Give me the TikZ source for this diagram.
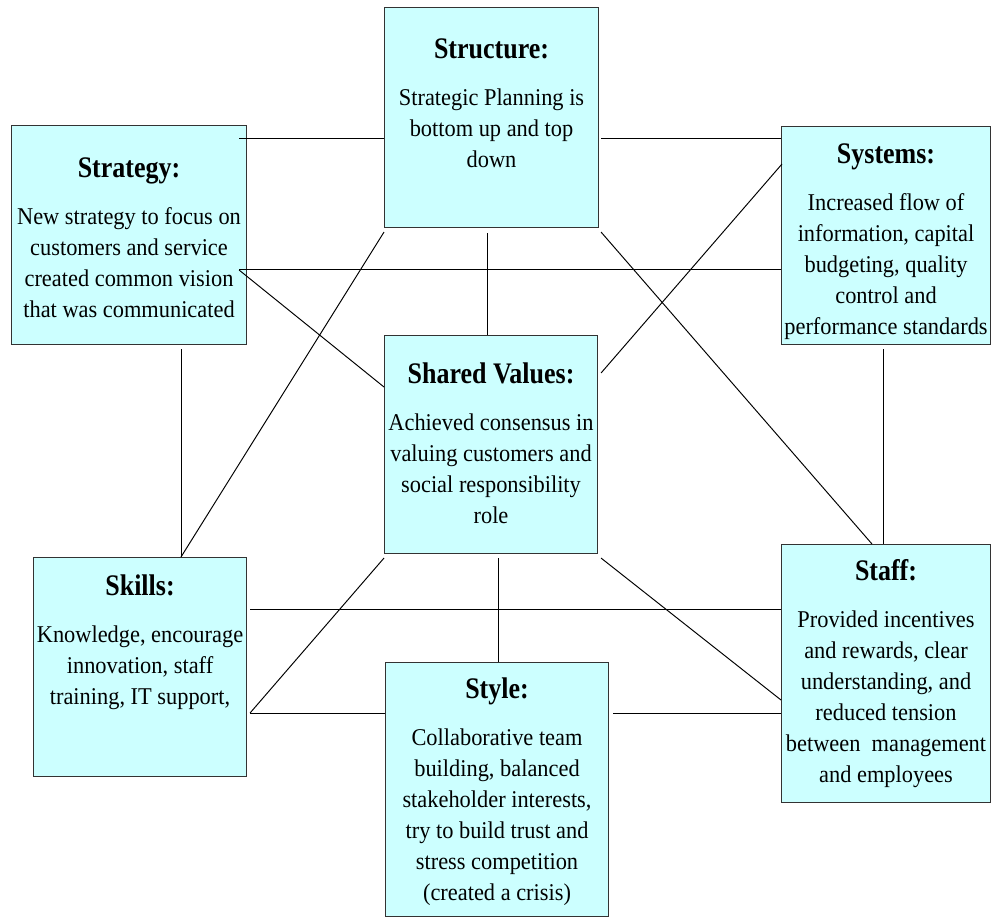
\documentclass[tikz,border=0pt]{standalone}
\usepackage{fontspec}
\setmainfont{Liberation Serif}[FakeStretch=0.93]
\newfontfamily\titlefont{Liberation Serif}[FakeStretch=0.87]
\usepackage{tikz}
\usetikzlibrary{calc}

\newlength{\pxu}
\setlength{\pxu}{0.02cm}
% #1 width, #2 height, #3 title baseline, #4 title, #5 text
\newcommand{\panel}[5]{%
  \parbox[t][#2\pxu][t]{#1\pxu}{\centering
    \fontsize{13.7}{16}\selectfont
    \baselineskip=31\pxu \lineskiplimit=-\maxdimen
    \rule{0pt}{#3\pxu}{\titlefont\fontsize{17}{20}\selectfont\bfseries #4}\par
    \vspace{16\pxu}#5}}

\definecolor{boxfill}{HTML}{CCFFFF}
\definecolor{boxline}{HTML}{333333}

\begin{document}
\begin{tikzpicture}[x=0.02cm, y=-0.02cm,
    box/.style={draw=boxline, fill=boxfill, line width=0.6pt, inner sep=0pt, anchor=north west},
    link/.style={line width=0.55pt}]
        \useasboundingbox (0,0) rectangle (992,917);

        \node[box] (structure) at (384,7) {\panel{214}{220}{51}{Structure:}{Strategic Planning is\\bottom up and top\\down}};
        \node[box] (strategy) at (11,125) {\panel{235}{219}{52}{Strategy:}{New strategy to focus on\\customers and service\\created common vision\\that was communicated}};
        \node[box] (systems) at (781,126) {\panel{209}{218}{37}{Systems:}{Increased flow of\\information, capital\\budgeting, quality\\control and\\performance standards}};
        \node[box] (shared) at (384,335) {\panel{213}{218}{48}{Shared Values:}{Achieved consensus in\\valuing customers and\\social responsibility\\role}};
        \node[box] (skills) at (33,557) {\panel{213}{219}{38}{Skills:}{Knowledge, encourage\\innovation, staff\\training, IT support,}};
        \node[box] (staff) at (781,544) {\panel{209}{258}{36}{Staff:}{Provided incentives\\and rewards, clear\\understanding, and\\reduced tension\\between~ management\\and employees}};
        \node[box] (style) at (385,662) {\panel{223}{254}{36}{Style:}{Collaborative team\\building, balanced\\stakeholder interests,\\try to build trust and\\stress competition\\(created a crisis)}};

        % top row
        \draw[link] ($(strategy.north east)+(-8,13)$) -- ($(structure.north west)+(0,131)$);
        \draw[link] ($(structure.north east)+(2,131)$) -- ($(systems.north west)+(0,12)$);
        \draw[link] ($(strategy.north east)+(-8,144)$) -- ($(systems.north west)+(0,143)$);

        % to and from the centre
        \draw[link] ($(strategy.north east)+(-8,145)$) -- ($(shared.north west)+(0,52)$);
        \draw[link] ($(structure.south west)+(103,5)$) -- ($(shared.north west)+(103,0)$);
        \draw[link] ($(systems.north west)+(1,38)$) -- ($(shared.north east)+(3,38)$);
        \draw[link] ($(shared.south west)+(0,4)$) -- ($(skills.north east)+(3,156)$);
        \draw[link] ($(shared.south west)+(114,4)$) -- ($(style.north west)+(113,0)$);
        \draw[link] ($(shared.south east)+(3,4)$) -- ($(staff.north west)+(0,156)$);

        % long diagonals and sides
        \draw[link] ($(structure.south west)+(0,4)$) -- ($(skills.north west)+(148,0)$);
        \draw[link] ($(structure.south east)+(2,4)$) -- ($(staff.north west)+(91,0)$);
        \draw[link] ($(strategy.south west)+(170,4)$) -- ($(skills.north west)+(148,0)$);
        \draw[link] ($(systems.south west)+(102,4)$) -- ($(staff.north west)+(102,0)$);

        % bottom row
        \draw[link] ($(skills.north east)+(3,52)$) -- ($(staff.north west)+(0,65)$);
        \draw[link] ($(skills.north east)+(3,156)$) -- ($(style.north west)+(0,51)$);
        \draw[link] ($(style.north east)+(4,51)$) -- ($(staff.north west)+(0,169)$);
      \end{tikzpicture}
\end{document}
